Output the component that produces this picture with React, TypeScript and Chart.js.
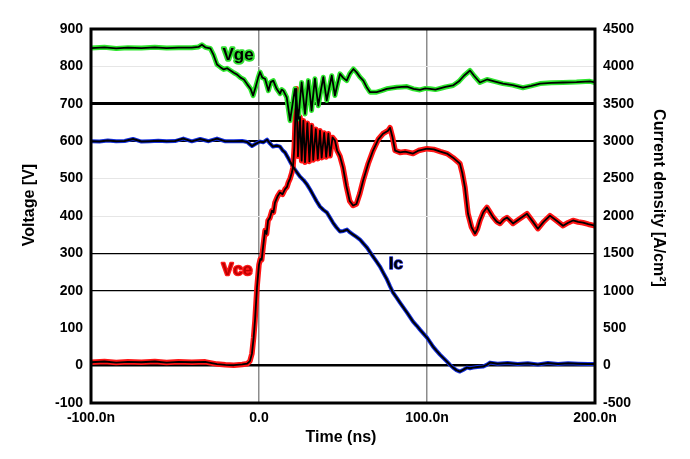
import React, { useEffect, useRef } from 'react';
import { Chart, registerables } from 'chart.js';

Chart.register(...registerables);

// Time axis (ns)
const X_TICK_VALUES = [-100, 0, 100, 200];
const X_TICK_LABELS = ['-100.0n', '0.0', '100.0n', '200.0n'];

// Gate voltage Vge [V] (left axis) as [time ns, value]
const VGE: number[][] = [
  [-100, 849], [-92, 851], [-85, 848], [-78, 850], [-70, 849], [-62, 851], [-55, 849], [-48, 850],
  [-40, 850], [-36, 852], [-34, 858], [-32, 851], [-29, 848], [-27, 830], [-25, 805], [-23, 798],
  [-21, 792], [-19, 795], [-17, 789], [-15, 783], [-13, 778], [-11, 770], [-9, 765], [-7, 752],
  [-5, 740], [-3.5, 722], [-2, 745], [-0.5, 770], [0.6, 785], [2, 770], [3.6, 767], [5.6, 735],
  [7, 758], [8.5, 762], [10.5, 740], [12.5, 727], [13.5, 738], [14.5, 735], [16.5, 717], [18.5, 655],
  [20, 700], [21.4, 740], [22.4, 700], [23.4, 660], [24.4, 710], [25.4, 757], [26.4, 715], [27.4, 673],
  [28.4, 720], [29.4, 762], [30.4, 722], [31.3, 682], [32.3, 725], [33.3, 767], [34.3, 730], [35.3, 695],
  [36.8, 735], [38.3, 771], [39.3, 740], [40.3, 709], [41.8, 743], [43.3, 775], [44.3, 748], [45.2, 722],
  [46.7, 752], [48.2, 780], [50, 770], [52.2, 762], [54, 780], [56.2, 793], [58.1, 784], [60, 772],
  [62.1, 762], [64, 745], [66.1, 731], [70, 731], [73, 735], [76, 740], [79, 742], [82, 744],
  [85, 745], [88, 746], [92, 740], [95.8, 737], [99, 741], [101.8, 740], [105, 738], [107.7, 741],
  [111, 745], [115.5, 749], [119, 760], [122, 775], [125.6, 789], [128, 775], [131.5, 757], [135.7, 765],
  [140, 760], [145.2, 754], [151, 750], [157.1, 743], [162, 748], [167.3, 754], [174, 756], [181, 757],
  [189, 758], [197, 760], [200, 757],
];

// Collector-emitter voltage Vce [V] (left axis)
const VCE: number[][] = [
  [-100, 9], [-92, 11], [-85, 8], [-78, 10], [-70, 9], [-62, 11], [-55, 8], [-48, 10], [-40, 9],
  [-32, 10], [-25, 4], [-20, 2], [-15, 1], [-10, 3], [-7, 5], [-5.4, 12], [-4.2, 32], [-3.2, 75],
  [-2.4, 120], [-1.2, 209], [-0.6, 240], [0, 270], [0.8, 285], [1.6, 283], [2.5, 320], [3.6, 361],
  [4.5, 352], [5.4, 388], [6.5, 395], [7.7, 414], [8.6, 410], [9.5, 436], [11, 452], [12.5, 463],
  [14, 458], [15.5, 472], [16.7, 478], [17.5, 490], [18.5, 500], [19.5, 515], [20.2, 529], [21, 583],
  [22.2, 740], [23.2, 560], [24.4, 665], [25.4, 548], [26.4, 655], [27.4, 544], [28.8, 648], [30, 546],
  [31.3, 642], [32.3, 550], [33.8, 632], [35, 553], [36.3, 628], [37.3, 556], [38.8, 622], [40, 558],
  [41.3, 620], [42.3, 561], [43.8, 610], [45.2, 602], [46.5, 575], [48.2, 560], [50, 530], [52, 480],
  [54, 440], [56, 428], [58, 432], [60, 460], [62, 495], [65, 540], [67.9, 575], [71, 605],
  [73.8, 620], [76.8, 628], [78, 636], [79.5, 610], [81, 575], [83.9, 570], [87, 572], [91.7, 567],
  [95, 575], [100, 580], [104, 578], [108, 572], [111.9, 567], [115.5, 556], [119.6, 540], [121, 515],
  [122.6, 476], [124.4, 406], [126.5, 370], [128.6, 353], [130, 365], [131.5, 388], [133.5, 410],
  [135.7, 423], [137.5, 410], [139.3, 397], [141.5, 385], [143.5, 380], [145.5, 390], [147.6, 396],
  [149.5, 388], [151.2, 380], [155, 392], [159.5, 406], [163, 385], [166, 366], [169.5, 385],
  [173.2, 401], [177, 388], [181, 374], [184, 382], [186.9, 388], [190, 384], [192.9, 382], [196, 378],
  [200, 374],
];

// Collector current density Ic [A/cm2] (right axis)
const IC: number[][] = [
  [-100, 3000], [-95, 2995], [-90, 3010], [-85, 2998], [-80, 3003], [-75, 3030], [-70, 2995], [-65, 3000],
  [-60, 3005], [-55, 2998], [-50, 3002], [-45, 3035], [-40, 2998], [-35, 3030], [-30, 3000], [-25, 3035],
  [-20, 2998], [-15, 3000], [-10, 3002], [-7, 2990], [-5.5, 2960], [-4.2, 2935], [-2, 2965], [0.6, 2995],
  [2.5, 2985], [4.8, 3020], [6.5, 2970], [8.3, 2928], [10.5, 2940], [12.5, 2928], [14, 2880], [15.5, 2848],
  [17, 2790], [18.5, 2727], [20, 2670], [21.4, 2620], [23, 2570], [24.4, 2527], [26.5, 2480], [28.6, 2420],
  [30.5, 2350], [32.1, 2286], [34.2, 2200], [36.3, 2126], [38.4, 2080], [40.5, 2045], [42.3, 1975], [44, 1912],
  [46, 1850], [48.2, 1792], [50.3, 1800], [52.4, 1818], [54.2, 1780], [56, 1751], [58, 1720], [60.1, 1685],
  [62.2, 1630], [64.3, 1578], [66, 1520], [67.9, 1457], [70, 1390], [72, 1324], [74, 1240], [76.2, 1150],
  [78, 1060], [79.8, 976], [82, 905], [83.9, 842], [86, 775], [88.1, 709], [90, 645], [91.7, 588],
  [93.8, 535], [95.8, 481], [98, 425], [100, 374], [101.8, 315], [103.6, 254], [105.6, 200], [107.7, 147],
  [109.8, 100], [111.9, 53], [113.7, 10], [115.5, -27], [117.5, -60], [119.6, -80], [121.7, -55], [123.8, -27],
  [125.6, -35], [127.4, -27], [130, -20], [133.3, -13], [135.5, 10], [137.5, 40], [142, 25], [148, 35],
  [154, 20], [160, 30], [166, 15], [172, 35], [178, 20], [184, 30], [190, 25], [196, 20], [200, 22],
];

// In-plot series labels: [text, time ns, left-axis value]
const SERIES_LABELS: [string, number, number][] = [
  ['Vge', -12.5, 829],
  ['Vce', -13.1, 254],
  ['Ic', 81.5, 270],
];

const FONT = "'Liberation Sans', Arial, sans-serif";

export default function App() {
  const ref = useRef<HTMLCanvasElement>(null);

  useEffect(() => {
    if (!ref.current) return;
    const toXY = (arr: number[][]) => arr.map(([x, y]) => ({ x, y }));
    const layer = (data: number[][], color: string, width: number, axis: string, order: number) => ({
      data: toXY(data),
      borderColor: color,
      borderWidth: width,
      pointRadius: 0,
      tension: 0,
      fill: false,
      yAxisID: axis,
      order,
      borderJoinStyle: 'round' as const,
      borderCapStyle: 'round' as const,
    });

    const decorPlugin = {
      id: 'decor',
      afterDatasetsDraw(chart: any) {
        const { ctx, scales } = chart;
        ctx.save();
        ctx.textAlign = 'center';
        ctx.textBaseline = 'middle';
        ctx.font = `bold 17px ${FONT}`;
        SERIES_LABELS.forEach(([text, t, v]) => {
          const px = scales.x.getPixelForValue(t);
          const py = scales.y.getPixelForValue(v);
          ctx.lineJoin = 'round';
          if (text === 'Vge') {
            ctx.strokeStyle = '#30e030';
            ctx.lineWidth = 3.5;
            ctx.strokeText(text, px, py);
            ctx.fillStyle = '#000';
          } else if (text === 'Vce') {
            ctx.strokeStyle = '#ff1a1a';
            ctx.lineWidth = 2.5;
            ctx.strokeText(text, px, py);
            ctx.fillStyle = '#c00000';
          } else {
            ctx.strokeStyle = '#2030d0';
            ctx.lineWidth = 1.5;
            ctx.strokeText(text, px, py);
            ctx.fillStyle = '#000';
          }
          ctx.fillText(text, px, py);
        });
        ctx.restore();
      },
      afterDraw(chart: any) {
        const { ctx, chartArea } = chart;
        const { left, right, top, bottom } = chartArea;
        ctx.save();
        ctx.strokeStyle = '#000';
        ctx.lineWidth = 3;
        ctx.strokeRect(left, top, right - left, bottom - top);
        ctx.fillStyle = '#000';
        ctx.font = `bold 16px ${FONT}`;
        ctx.textAlign = 'center';
        ctx.textBaseline = 'middle';
        const midY = (top + bottom) / 2;
        // left title
        ctx.save();
        ctx.translate(left - 61, midY - 11);
        ctx.rotate(-Math.PI / 2);
        ctx.fillText('Voltage [V]', 0, 0);
        ctx.restore();
        // right title
        ctx.save();
        ctx.translate(right + 63, midY - 18);
        ctx.rotate(Math.PI / 2);
        ctx.fillText('Current density [A/cm\u00B2]', 0, 0);
        ctx.restore();
        // bottom title
        ctx.fillText('Time (ns)', (left + right) / 2 - 2, bottom + 35);
        ctx.restore();
      },
    };

    const yGridColor = (ctx: any) => {
      const v = ctx.tick ? ctx.tick.value : null;
      if (v === 700 || v === 600 || v === 300 || v === 200 || v === 0) return '#000';
      if (v === 800 || v === 500 || v === 400) return '#e6e6e6';
      return 'rgba(0,0,0,0)';
    };
    const yGridWidth = (ctx: any) => {
      const v = ctx.tick ? ctx.tick.value : null;
      if (v === 700) return 3;
      if (v === 0) return 2.5;
      if (v === 600) return 2;
      if (v === 300 || v === 200) return 1.3;
      return 1;
    };

    const chart = new Chart(ref.current, {
      type: 'line',
      data: {
        datasets: [
          layer(VGE, '#000', 1.8, 'y', 1),
          layer(VCE, '#000', 1.8, 'y', 2),
          layer(IC, '#000', 2, 'y2', 3),
          layer(VGE, '#2ee62e', 5, 'y', 4),
          layer(VCE, '#ff1414', 5.5, 'y', 5),
          layer(IC, '#1530e0', 4, 'y2', 6),
        ] as any,
      },
      options: {
        animation: false,
        responsive: false,
        devicePixelRatio: 1,
        events: [],
        layout: { padding: { top: 29, left: 0, right: 0, bottom: 0 } },
        plugins: {
          legend: { display: false },
          tooltip: { enabled: false },
          title: { display: false },
        },
        scales: {
          x: {
            type: 'linear',
            min: -100,
            max: 200,
            afterFit: (s: any) => { s.height = 56; },
            afterBuildTicks: (s: any) => { s.ticks = X_TICK_VALUES.map((v) => ({ value: v })); },
            border: { display: false },
            grid: {
              drawTicks: false,
              color: (ctx: any) => (ctx.tick && (ctx.tick.value === 0 || ctx.tick.value === 100) ? '#8c8c8c' : 'rgba(0,0,0,0)'),
              lineWidth: 1.5,
            },
            ticks: {
              padding: 7,
              maxRotation: 0,
              autoSkip: false,
              color: '#000',
              font: { family: FONT, size: 14, weight: 'bold' },
              callback: (v: any) => {
                const i = X_TICK_VALUES.indexOf(Number(v));
                return i >= 0 ? X_TICK_LABELS[i] : '';
              },
            },
          },
          y: {
            type: 'linear',
            position: 'left',
            min: -100,
            max: 900,
            afterFit: (s: any) => { s.width = 91; },
            border: { display: false },
            grid: { drawTicks: false, color: yGridColor, lineWidth: yGridWidth },
            ticks: {
              stepSize: 100,
              padding: 8,
              color: '#000',
              font: { family: FONT, size: 14, weight: 'bold' },
              callback: (v: any) => String(v),
            },
          },
          y2: {
            type: 'linear',
            position: 'right',
            min: -500,
            max: 4500,
            afterFit: (s: any) => { s.width = 95; },
            border: { display: false },
            grid: { display: false, drawTicks: false },
            ticks: {
              stepSize: 500,
              padding: 8,
              color: '#000',
              font: { family: FONT, size: 14, weight: 'bold' },
              callback: (v: any) => String(v),
            },
          },
        },
      } as any,
      plugins: [decorPlugin],
    });

    return () => chart.destroy();
  }, []);

  return (
    <div style={{ position: 'fixed', left: 0, top: 0, width: 690, height: 459, background: '#fff' }}>
      <canvas ref={ref} width={690} height={459} style={{ display: 'block', width: 690, height: 459 }} />
    </div>
  );
}
